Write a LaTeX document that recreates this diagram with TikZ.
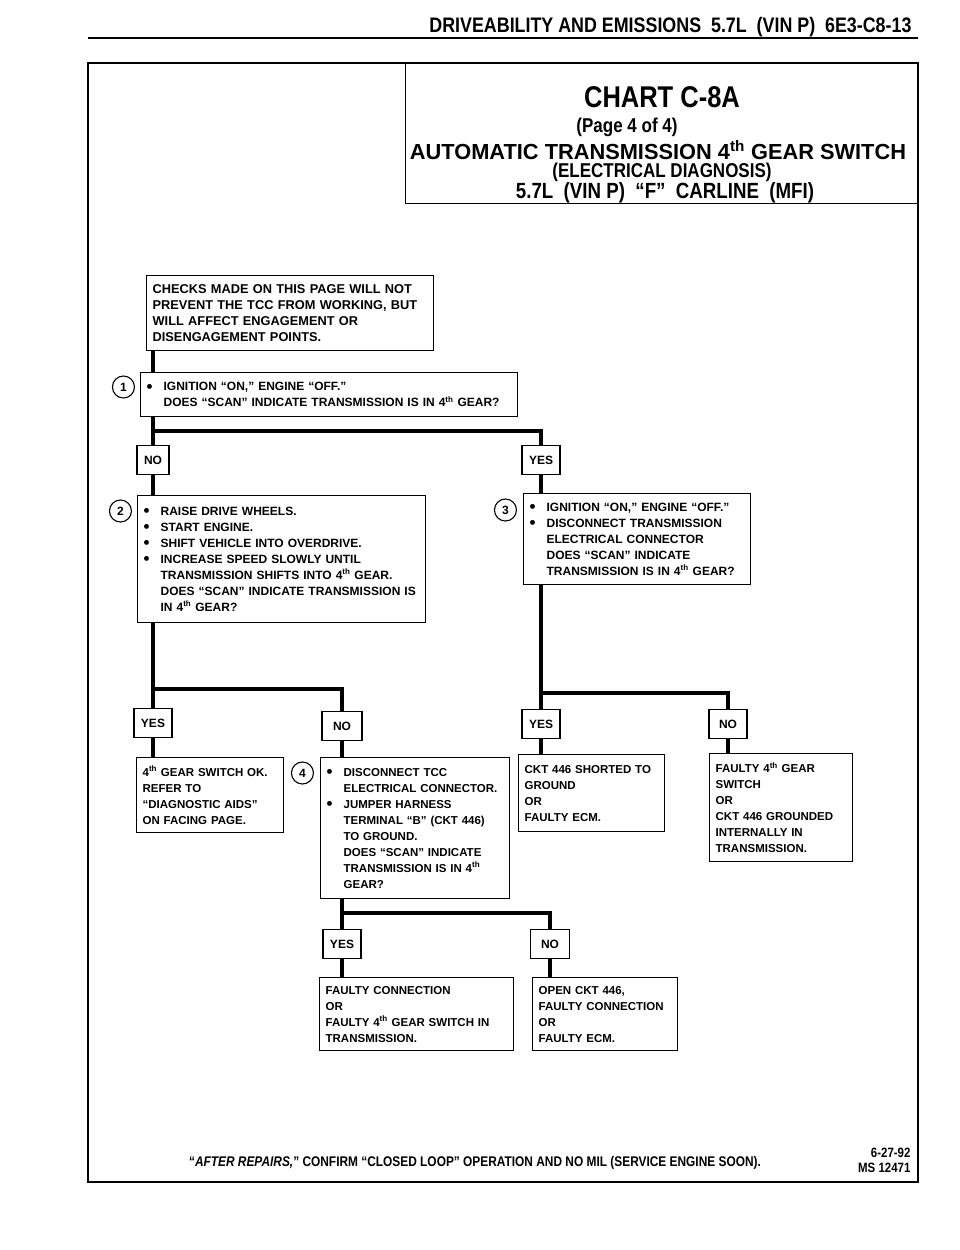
\documentclass[tikz,border=0pt]{standalone}
\usepackage{fontspec}
\setmainfont{Liberation Sans}
\newfontfamily\condsf[FakeStretch=0.85]{Liberation Sans}
\usepackage{tikz}
\usetikzlibrary{positioning}

\newcommand{\bullitem}{\makebox[17pt][l]{\raisebox{-1.6pt}{\fontsize{17}{17}\selectfont\textbullet}}}
\newcommand{\bullgap}{\hspace*{17pt}}
\newcommand{\fourthgr}{4\textsuperscript{th}}

\begin{document}
\begin{tikzpicture}[x=1pt,y=-1pt,node distance=14pt,
	box/.style={draw,line width=1.3pt,anchor=north west,align=left,inner xsep=6pt,inner ysep=3pt,font=\fontsize{11.5}{16}\selectfont\bfseries},
	big/.style={font=\fontsize{12}{16}\selectfont\bfseries},
	ttl/.style={inner sep=0pt},
	lab/.style={draw,line width=1.3pt,fill=white,inner xsep=7pt,minimum height=29pt,font=\fontsize{12}{14}\selectfont\bfseries},
	num/.style={draw,circle,line width=1.1pt,minimum size=22pt,inner sep=0pt,font=\fontsize{12}{14}\selectfont\bfseries},
	flow/.style={line width=3.8pt}]
	\useasboundingbox (0,0) rectangle (960,1250);

	% page head
	\node[anchor=east,font=\fontsize{21}{24}\selectfont\condsf\bfseries] (head) at (915,27) {DRIVEABILITY AND EMISSIONS \ 5.7L \ (VIN P) \ 6E3-C8-13};
	\draw[line width=1.8pt] (88,38) -- (918,38);

	% frame and title
	\draw[line width=2.4pt] (88,63) rectangle (918,1182);
	\node[draw,line width=1.4pt,anchor=north west,minimum width=513pt,minimum height=140pt] (title) at (405,63) {};
	\node[ttl,font=\fontsize{30}{32}\selectfont\condsf\bfseries] (t_1) at (662,97) {CHART C-8A};
	\node[ttl,font=\fontsize{20}{22}\selectfont\condsf\bfseries] (t_2) at (627,127) {(Page 4 of 4)};
	\node[ttl,font=\fontsize{21.8}{24}\selectfont\bfseries] (t_3) at (658,150) {AUTOMATIC TRANSMISSION \fourthgr{} GEAR SWITCH};
	\node[ttl,font=\fontsize{20}{22}\selectfont\condsf\bfseries] (t_4) at (662,172) {(ELECTRICAL DIAGNOSIS)};
	\node[ttl,font=\fontsize{22}{24}\selectfont\condsf\bfseries] (t_5) at (665,193) {5.7L \ (VIN P) \ “F” \ CARLINE \ (MFI)};

	% steps
	\node[box,text width=275pt,minimum height=75pt,font=\fontsize{12.8}{16}\selectfont\bfseries] (c_0) at (146,275) {CHECKS MADE ON THIS PAGE WILL NOT\\PREVENT THE TCC FROM WORKING, BUT\\WILL AFFECT ENGAGEMENT OR\\DISENGAGEMENT POINTS.};
	\node[box,big,text width=365pt,minimum height=44pt] (s_1) at (140,372) {\bullitem IGNITION “ON,” ENGINE “OFF.”\\\bullgap DOES “SCAN” INDICATE TRANSMISSION IS IN \fourthgr{} GEAR?};
	\node[box,big,text width=276pt,minimum height=127pt] (s_2) at (137,495) {\bullitem RAISE DRIVE WHEELS.\\\bullitem START ENGINE.\\\bullitem SHIFT VEHICLE INTO OVERDRIVE.\\\bullitem INCREASE SPEED SLOWLY UNTIL\\\bullgap TRANSMISSION SHIFTS INTO \fourthgr{} GEAR.\\\bullgap DOES “SCAN” INDICATE TRANSMISSION IS\\\bullgap IN \fourthgr{} GEAR?};
	\node[box,big,text width=215pt,minimum height=91pt] (s_3) at (523,493) {\bullitem IGNITION “ON,” ENGINE “OFF.”\\\bullitem DISCONNECT TRANSMISSION\\\bullgap ELECTRICAL CONNECTOR\\\bullgap DOES “SCAN” INDICATE\\\bullgap TRANSMISSION IS IN \fourthgr{} GEAR?};
	\node[box,text width=177pt,minimum height=141pt] (s_4) at (320,757) {\bullitem DISCONNECT TCC\\\bullgap ELECTRICAL CONNECTOR.\\\bullitem JUMPER HARNESS\\\bullgap TERMINAL “B” (CKT 446)\\\bullgap TO GROUND.\\\bullgap DOES “SCAN” INDICATE\\\bullgap TRANSMISSION IS IN \fourthgr\\\bullgap GEAR?};

	\node[num,left=5pt of s_1.north west,yshift=-15pt] (c_1) {1};
	\node[num,left=5pt of s_2.north west,yshift=-16pt] (c_2) {2};
	\node[num,left=6pt of s_3.north west,yshift=-17pt] (c_3) {3};
	\node[num,left=6pt of s_4.north west,yshift=-16pt] (c_4) {4};

	% results
	\node[box,text width=135pt,minimum height=75pt] (r_1) at (136,757) {\fourthgr{} GEAR SWITCH OK.\\REFER TO\\“DIAGNOSTIC AIDS”\\ON FACING PAGE.};
	\node[box,text width=134pt,minimum height=77pt] (r_2) at (518,754) {CKT 446 SHORTED TO\\GROUND\\OR\\FAULTY ECM.};
	\node[box,text width=131pt,minimum height=108pt] (r_3) at (709,753) {FAULTY \fourthgr{} GEAR\\SWITCH\\OR\\CKT 446 GROUNDED\\INTERNALLY IN\\TRANSMISSION.};
	\node[box,text width=182pt,minimum height=73pt] (r_4) at (319,977) {FAULTY CONNECTION\\OR\\FAULTY \fourthgr{} GEAR SWITCH IN\\TRANSMISSION.};
	\node[box,text width=133pt,minimum height=73pt] (r_5) at (532,977) {OPEN CKT 446,\\FAULTY CONNECTION\\OR\\FAULTY ECM.};

	% branch points
	\coordinate (j_1) at (153,431);
	\coordinate (k_1) at (541,431);
	\coordinate (j_2) at (153,689);
	\coordinate (k_2) at (342,689);
	\coordinate (j_3) at (541,693);
	\coordinate (k_3) at (728,693);
	\coordinate (j_4) at (342,913);
	\coordinate (k_4) at (550,913);

	\node[lab] (n_1) [below=of j_1] {NO};
	\node[lab] (y_1) [below=of k_1] {YES};
	\node[lab] (y_2) [below=19pt of j_2] {YES};
	\node[lab,minimum width=40pt] (n_2) [below=22pt of k_2] {NO};
	\node[lab] (y_3) [below=16pt of j_3] {YES};
	\node[lab,minimum width=38pt] (n_3) [below=16pt of k_3] {NO};
	\node[lab] (y_4) [below=16pt of j_4] {YES};
	\node[lab,minimum width=39pt] (n_4) [below=16pt of k_4] {NO};

	\draw[flow] (c_0.south -| j_1) -- (s_1.north -| j_1);
	\draw[flow] (s_1.south -| j_1) -- (n_1) -- (s_2.north -| j_1);
	\draw[flow] (j_1) -- (k_1) -- (y_1) -- (s_3.north -| k_1);
	\draw[flow] (s_2.south -| j_2) -- (y_2) -- (r_1.north -| j_2);
	\draw[flow] (j_2) -- (k_2) -- (n_2) -- (s_4.north -| k_2);
	\draw[flow] (s_3.south -| j_3) -- (y_3) -- (r_2.north -| j_3);
	\draw[flow] (j_3) -- (k_3) -- (n_3) -- (r_3.north -| k_3);
	\draw[flow] (s_4.south -| j_4) -- (y_4) -- (r_4.north -| j_4);
	\draw[flow] (j_4) -- (k_4) -- (n_4) -- (r_5.north -| k_4);

	% foot
	\node[font=\fontsize{14}{16}\selectfont\condsf\bfseries] (foot) at (475,1163) {“\textit{AFTER REPAIRS,}” CONFIRM “CLOSED LOOP” OPERATION AND NO MIL (SERVICE ENGINE SOON).};
	\node[anchor=east,align=right,font=\fontsize{13.5}{15}\selectfont\condsf\bfseries] (date) at (914,1160) {6-27-92\\MS 12471};
\end{tikzpicture}
\end{document}
